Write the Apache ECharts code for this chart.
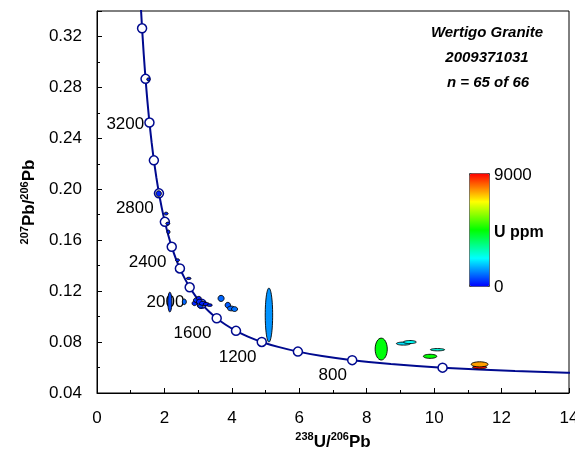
<!DOCTYPE html>
<html>
<head>
<meta charset="utf-8">
<script src="https://cdn.jsdelivr.net/npm/echarts@6/dist/echarts.min.js"></script>
<style>
  html, body { margin: 0; padding: 0; background: #fff; }
  #chart { width: 575px; height: 464px; }
</style>
</head>
<body>
<div id="chart"></div>
<script>
// concordia curve (Tera-Wasserburg), 3800 -> 400 Ma
const concordiaX = [1.2453, 1.2898, 1.3370, 1.3869, 1.4398, 1.4959, 1.5557, 1.6194, 1.6874, 1.7602, 1.8383, 1.9224, 2.0129, 2.1108, 2.2170, 2.3325, 2.4586, 2.5968, 2.7490, 2.9173, 3.1045, 3.3139, 3.5495, 3.8170, 4.1225, 4.4757, 4.8870, 5.3746, 5.9590, 6.6750, 7.5700, 8.7180, 10.250, 12.400, 15.620]
const concordiaY = [0.372, 0.3484, 0.3264, 0.3058, 0.2867, 0.2690, 0.2524, 0.2370, 0.2227, 0.2093, 0.1968, 0.1852, 0.1744, 0.1643, 0.1548, 0.1460, 0.1378, 0.1302, 0.1230, 0.1163, 0.1100, 0.1042, 0.0987, 0.0936, 0.0888, 0.0843, 0.0801, 0.0762, 0.0725, 0.0690, 0.0658, 0.0628, 0.0599, 0.0572, 0.0547]

// age markers (Ma)
const markAge = [3600, 3400, 3200, 3000, 2800, 2600, 2400, 2200, 2000, 1800, 1600, 1400, 1200, 1000, 800, 600]
const markX = [1.337, 1.440, 1.556, 1.687, 1.838, 2.013, 2.217, 2.459, 2.749, 3.105, 3.550, 4.123, 4.887, 5.959, 7.570, 10.25]
const markY = [0.3264, 0.2867, 0.2524, 0.2227, 0.1968, 0.1744, 0.1548, 0.1378, 0.1230, 0.1100, 0.0987, 0.0888, 0.0801, 0.0725, 0.0658, 0.0599]
const labelAges = [3200, 2800, 2400, 2000, 1600, 1200, 800]

// analyses: centre, half-axes of error ellipse, U ppm
const spotX = [1.525, 1.83, 2.05, 2.10, 2.12, 2.39, 2.72, 2.16, 2.59, 2.89, 2.94, 3.02, 3.04, 3.07, 3.14, 3.24, 3.34, 3.68, 3.88, 3.98, 4.08, 5.10, 8.43, 9.09, 9.28, 10.10, 9.88, 11.35, 11.35]
const spotY = [0.2863, 0.1966, 0.1809, 0.1731, 0.1665, 0.1443, 0.1300, 0.1114, 0.1116, 0.1104, 0.1129, 0.1143, 0.1116, 0.1082, 0.1104, 0.1098, 0.1090, 0.1143, 0.1090, 0.1064, 0.1059, 0.1012, 0.0745, 0.0788, 0.0800, 0.0740, 0.0688, 0.0602, 0.0625]
const spotSx = [0.05, 0.08, 0.06, 0.06, 0.045, 0.06, 0.07, 0.06, 0.06, 0.07, 0.08, 0.07, 0.09, 0.08, 0.10, 0.09, 0.08, 0.09, 0.08, 0.11, 0.09, 0.11, 0.18, 0.21, 0.19, 0.21, 0.20, 0.21, 0.25]
const spotSy = [0.0012, 0.0022, 0.0011, 0.0011, 0.0015, 0.0011, 0.0009, 0.0078, 0.0022, 0.0018, 0.0018, 0.0016, 0.0020, 0.0015, 0.0016, 0.0013, 0.0010, 0.0024, 0.0022, 0.0019, 0.0019, 0.0212, 0.0086, 0.0012, 0.0012, 0.0009, 0.0016, 0.0012, 0.0020]
const spotU = [300, 300, 300, 300, 300, 300, 300, 600, 900, 300, 400, 200, 300, 500, 300, 200, 300, 900, 800, 900, 1000, 1300, 4400, 2000, 2300, 2500, 4500, 8900, 7600]

const xTicks = [0, 14, 2]
const yTicks = [0.04, 0.34, 0.04]

const lineColor = '#000a8f'
const font = 'Liberation Sans, Arial, sans-serif'

const chartEl = document.getElementById('chart')
const myChart = echarts.init(chartEl)

const curveData = concordiaX.map((x, i) => [x, concordiaY[i]])
const markData = markX.map((x, i) => {
  const age = markAge[i]
  const item = { value: [x, markY[i]] }
  if (labelAges.indexOf(age) >= 0) {
    item.label = {
      show: true,
      position: 'left',
      distance: 0,
      offset: [0, age === 3200 ? 2 : 15],
      formatter: String(age)
    }
  }
  return item
})
const spotData = spotX.map((x, i) => [x, spotY[i], spotSx[i], spotSy[i], spotU[i]])

const supRich = {
  main: { fontSize: 17, fontWeight: 'bold', fontFamily: font, color: '#000', lineHeight: 20 },
  sup: { fontSize: 11, fontWeight: 'bold', fontFamily: font, color: '#000', verticalAlign: 'top', lineHeight: 12 }
}

const option = {
  animation: false,
  grid: {
    left: 97,
    right: 6,
    top: 11,
    bottom: 71,
    outerBoundsMode: 'none',
    show: true,
    borderColor: '#000',
    borderWidth: 1
  },
  xAxis: {
    type: 'value',
    min: xTicks[0],
    max: xTicks[1],
    interval: xTicks[2],
    name: '{sup|238}{main|U/}{sup|206}{main|Pb}',
    nameLocation: 'middle',
    nameGap: 34,
    nameTextStyle: { rich: supRich },
    axisLine: { onZero: false, lineStyle: { color: '#000', width: 1 } },
    axisTick: { inside: true, length: 5, lineStyle: { color: '#000' } },
    minorTick: { show: true, splitNumber: 2, length: 3, lineStyle: { color: '#000' } },
    axisLabel: { fontSize: 17, fontFamily: font, color: '#000', margin: 17, hideOverlap: false },
    splitLine: { show: false }
  },
  yAxis: {
    type: 'value',
    min: yTicks[0],
    max: yTicks[1],
    interval: yTicks[2],
    name: '{sup|207}{main|Pb/}{sup|206}{main|Pb}',
    nameLocation: 'middle',
    nameRotate: 90,
    nameGap: 58,
    nameTextStyle: { rich: supRich },
    axisLine: { onZero: false, lineStyle: { color: '#000', width: 1 } },
    axisTick: { inside: true, length: 5, lineStyle: { color: '#000' } },
    minorTick: { show: true, splitNumber: 2, length: 3, lineStyle: { color: '#000' } },
    axisLabel: {
      fontSize: 17,
      fontFamily: font,
      color: '#000',
      margin: 15,
      showMaxLabel: false,
      formatter: (v) => v.toFixed(2)
    },
    splitLine: { show: false }
  },
  visualMap: {
    type: 'continuous',
    min: 0,
    max: 9000,
    dimension: 4,
    seriesIndex: 2,
    orient: 'vertical',
    left: 469,
    top: 173,
    itemWidth: 20,
    itemHeight: 113,
    padding: 0,
    calculable: false,
    hoverLink: false,
    borderColor: '#444',
    borderWidth: 1,
    inRange: {
      color: ['#0000ff', '#00ffff', '#00ff00', '#ffff00', '#ff0000']
    }
  },
  graphic: [
    {
      type: 'text',
      x: 487,
      y: 33,
      style: { text: 'Wertigo Granite', font: 'italic bold 15px ' + font, fill: '#000', textAlign: 'center', textVerticalAlign: 'middle' }
    },
    {
      type: 'text',
      x: 487,
      y: 57.5,
      style: { text: '2009371031', font: 'italic bold 15px ' + font, fill: '#000', textAlign: 'center', textVerticalAlign: 'middle' }
    },
    {
      type: 'text',
      x: 488,
      y: 82.5,
      style: { text: 'n = 65 of 66', font: 'italic bold 15px ' + font, fill: '#000', textAlign: 'center', textVerticalAlign: 'middle' }
    },
    {
      type: 'text',
      x: 494,
      y: 175,
      style: { text: '9000', font: '17px ' + font, fill: '#000', textAlign: 'left', textVerticalAlign: 'middle' }
    },
    {
      type: 'text',
      x: 494,
      y: 233,
      style: { text: 'U ppm', font: 'bold 16px ' + font, fill: '#000', textAlign: 'left', textVerticalAlign: 'middle' }
    },
    {
      type: 'text',
      x: 494,
      y: 287,
      style: { text: '0', font: '17px ' + font, fill: '#000', textAlign: 'left', textVerticalAlign: 'middle' }
    }
  ],
  series: [
    {
      type: 'line',
      data: curveData,
      smooth: 0.2,
      showSymbol: false,
      lineStyle: { color: lineColor, width: 2 },
      z: 2
    },
    {
      type: 'scatter',
      data: markData,
      symbol: 'circle',
      symbolSize: 9,
      itemStyle: { color: '#fff', borderColor: lineColor, borderWidth: 1.5, opacity: 1 },
      label: { show: false, fontSize: 17, fontFamily: font, color: '#000' },
      z: 3
    },
    {
      type: 'custom',
      data: spotData,
      encode: { x: 0, y: 1 },
      z: 4,
      renderItem: (params, api) => {
        const c = api.coord([api.value(0), api.value(1)])
        const s = api.size([api.value(2), api.value(3)])
        return {
          type: 'ellipse',
          shape: { cx: c[0], cy: c[1], rx: Math.max(s[0], 1), ry: Math.max(s[1], 1) },
          style: { fill: api.visual('color'), stroke: '#000', lineWidth: 0.9 }
        }
      }
    }
  ]
}
myChart.setOption(option)
</script>
</body>
</html>
